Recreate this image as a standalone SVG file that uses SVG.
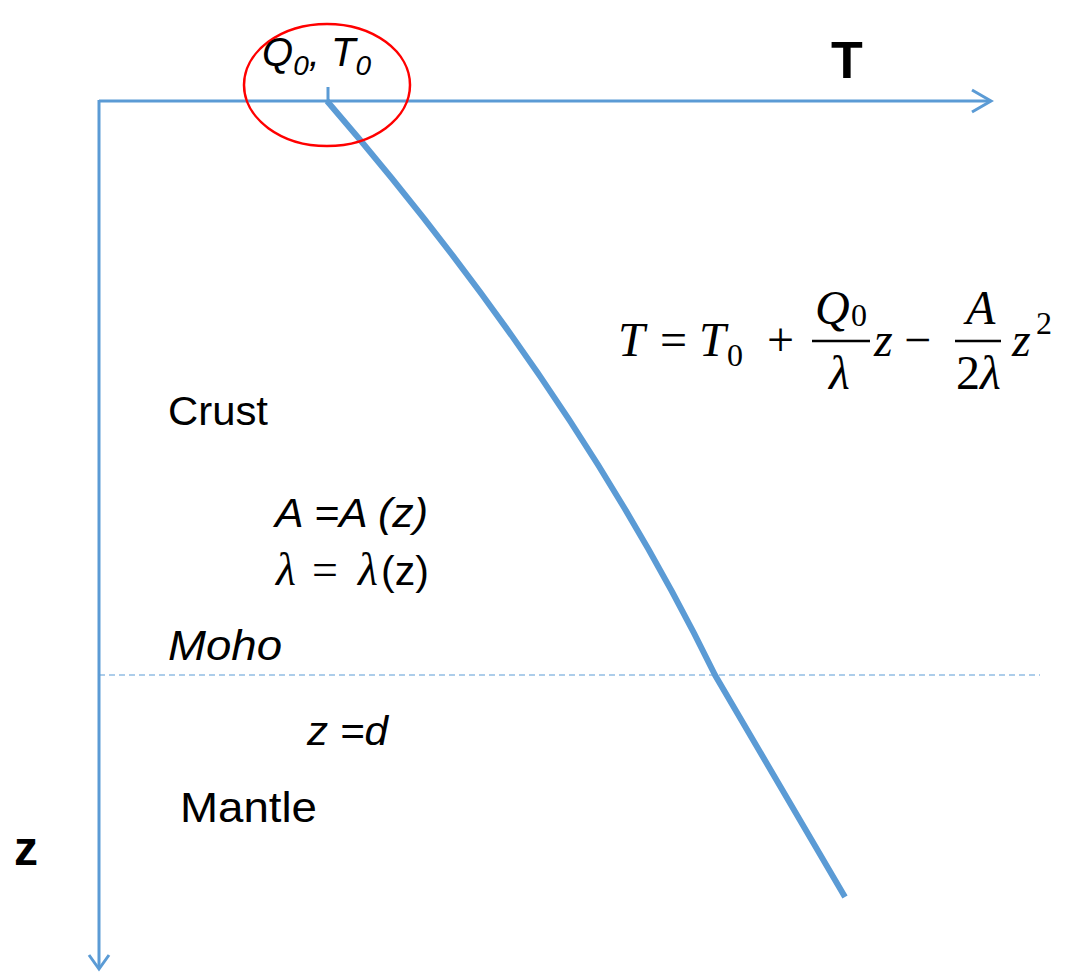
<svg xmlns="http://www.w3.org/2000/svg" width="1067" height="973" viewBox="0 0 1067 973">
<style>
.ax{stroke:#5B9BD5;stroke-width:3;fill:none;stroke-linecap:butt}
.curve{stroke:#5B9BD5;stroke-width:6;fill:none}
.sans{font-family:"Liberation Sans",Arial,sans-serif;fill:#000}
.it{font-style:italic}
.math{font-family:"Liberation Serif","Times New Roman",serif;fill:#000}
</style>
<rect width="1067" height="973" fill="#fff"/>
<g id="connectors">
<path class="ax" d="M99,101 H990"/>
<path class="ax" d="M972,90 L991,101 L972,112"/>
<path class="ax" d="M99,100 V968"/>
<path class="ax" d="M89,955 L99,969 L109,955"/>
<path class="ax" d="M328,87 V101"/>
<path d="M99,675 H1040" stroke="#5B9BD5" stroke-width="1" stroke-dasharray="6 4" fill="none"/>
<path class="curve" d="M327,101 Q575,388 715,675 L845,897"/>
</g>
<g id="origin">
<ellipse cx="327" cy="85" rx="83" ry="61" fill="none" stroke="#FF0000" stroke-width="2.5"/>
<text class="sans it" x="262" y="66" font-size="40">Q<tspan font-size="28" dy="9">0</tspan><tspan dy="-9">, T</tspan><tspan font-size="28" dy="9">0</tspan></text>
</g>
<g id="axis-labels">
<text class="sans" x="831" y="78" font-size="52" font-weight="bold">T</text>
<text class="sans" x="14" y="865" font-size="48" font-weight="bold">z</text>
</g>
<g id="equation">
<text class="math" font-size="48">
<tspan x="618" y="356" font-style="italic">T</tspan>
<tspan x="660" y="356">=</tspan>
<tspan x="699" y="356" font-style="italic">T</tspan>
<tspan x="727" y="366" font-size="32">0</tspan>
<tspan x="767" y="356">+</tspan>
<tspan x="815" y="324" font-style="italic">Q</tspan>
<tspan x="851" y="326" font-size="32">0</tspan>
<tspan x="829" y="389" font-style="italic">λ</tspan>
<tspan x="874" y="356" font-style="italic">z</tspan>
<tspan x="904" y="356">−</tspan>
<tspan x="966" y="324" font-style="italic">A</tspan>
<tspan x="956" y="389">2</tspan><tspan font-style="italic">λ</tspan>
<tspan x="1012" y="356" font-style="italic">z</tspan>
<tspan x="1036" y="334" font-size="32">2</tspan>
</text>
<path d="M812,341 H870 M955,341 H1001" stroke="#000" stroke-width="2.5"/>
</g>
<g id="crust">
<text class="sans" x="168" y="425" font-size="41" textLength="100" lengthAdjust="spacingAndGlyphs">Crust</text>
<text class="sans it" x="275" y="527" font-size="41" textLength="153" lengthAdjust="spacingAndGlyphs">A =A (z)</text>
<text class="sans" y="585" font-size="41"><tspan class="math it" x="276" font-size="46">λ</tspan><tspan class="math" x="312" font-size="46">=</tspan><tspan class="math it" x="358" font-size="46">λ</tspan><tspan x="381">(z)</tspan></text>
<text class="sans it" x="168" y="660" font-size="42" textLength="114" lengthAdjust="spacingAndGlyphs">Moho</text>
</g>
<g id="mantle">
<text class="sans it" x="307" y="745" font-size="40" textLength="81" lengthAdjust="spacingAndGlyphs">z =d</text>
<text class="sans" x="180" y="822" font-size="42" textLength="137" lengthAdjust="spacingAndGlyphs">Mantle</text>
</g>
</svg>
